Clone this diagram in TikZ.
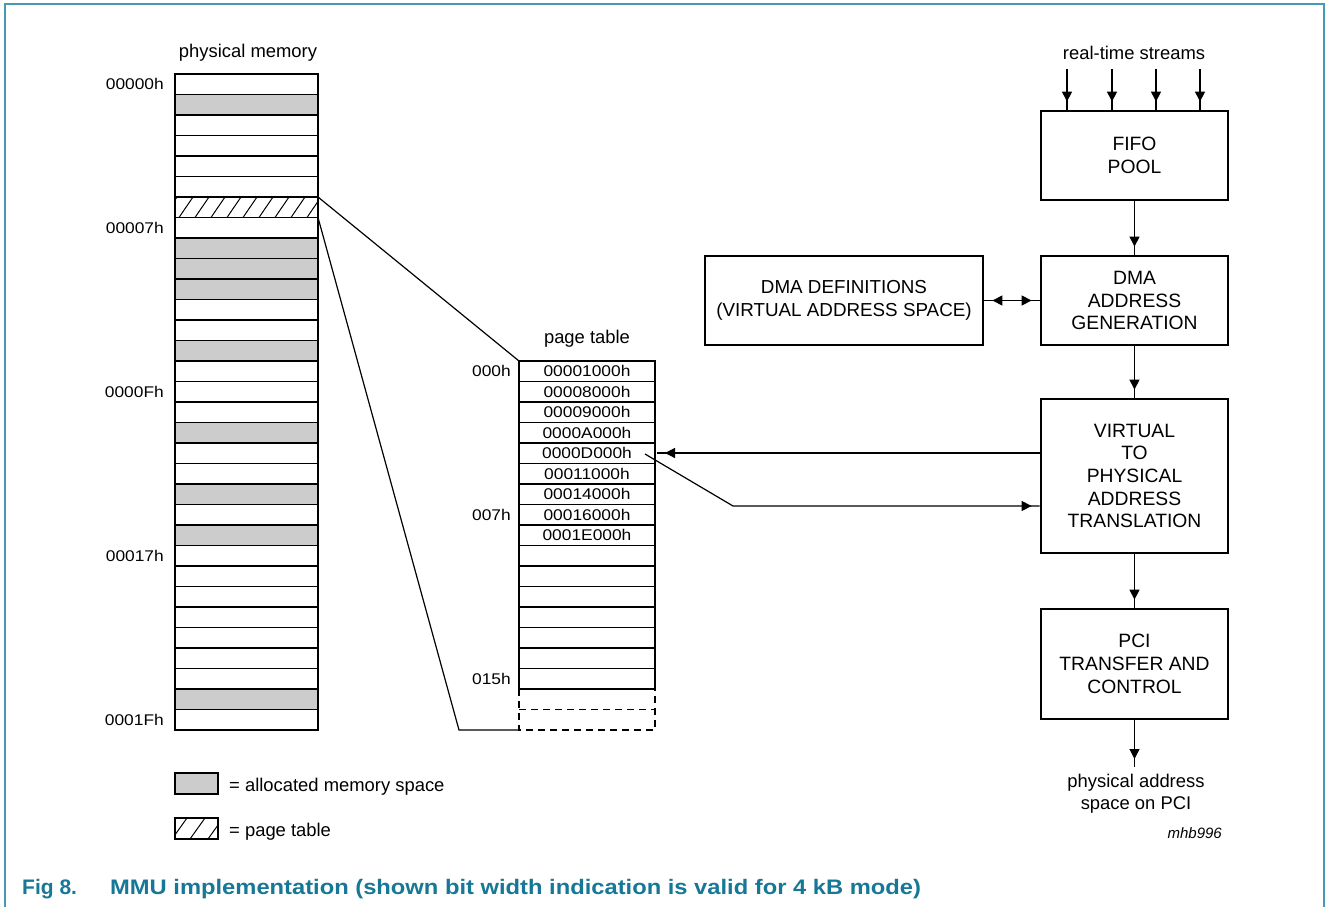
\documentclass[tikz,border=0pt]{standalone}
\usepackage{fontspec}
\setmainfont{Liberation Sans}
\newfontfamily\widefont[FakeStretch=1.12]{Liberation Sans}
\newfontfamily\capfont[FakeStretch=1.13]{Liberation Sans}
\usetikzlibrary{arrows.meta,decorations.markings}
\definecolor{capteal}{RGB}{22,120,150}
\definecolor{frameteal}{RGB}{70,155,180}
\definecolor{memgray}{RGB}{204,204,204}
\begin{document}
\begin{tikzpicture}[x=1pt,y=-1pt,
  txt/.style={font=\fontsize{18.4}{22}\selectfont, inner sep=0pt},
  hex/.style={font={\widefont\fontsize{15.5}{18}\selectfont}, inner sep=0pt},
  blk/.style={draw, line width=2.8pt, minimum width=187pt, align=center,
              font=\fontsize{19.3}{22.7}\selectfont, inner sep=0pt},
  gridline/.style={line width=1.7pt},
  ptline/.style={line width=1.4pt},
  conn/.style={line width=1.2pt},
  tipped/.style={postaction={decorate}, decoration={markings,
      mark=at position -8pt with {\arrow{Triangle[length=10pt,width=10pt]}}}},
  biarrow/.style={postaction={decorate}, decoration={markings,
      mark=at position 8pt with {\arrowreversed{Triangle[length=10pt,width=10pt]}},
      mark=at position -8pt with {\arrow{Triangle[length=10pt,width=10pt]}}}}
]
\useasboundingbox (0,0) rectangle (1328,907);
\fill[white] (0,0) rectangle (1328,907);

% frame
\draw[frameteal, line width=1.6pt] (5,907) -- (5,4) -- (1324,4) -- (1324,907);

% ---------- physical memory ----------
\node[txt, anchor=base] (pmtitle) at (248,58) {physical memory};
\foreach \r in {1,8,9,10,13,17,20,22,30} {
  \pgfmathsetmacro\ya{74+20.5*\r}
  \pgfmathsetmacro\yb{74+20.5*(\r+1)}
  \fill[memgray] (175,\ya) rectangle (318,\yb);
}
\begin{scope}
  \clip (175,197) rectangle (318,217.5);
  \foreach \k in {0,...,10} {
    \draw[line width=1pt] ({163+16*\k},217.5) -- ({177+16*\k},197);
  }
\end{scope}
\draw[gridline] (175,74) rectangle (318,730);
\foreach \r in {1,...,31} {
  \pgfmathsetmacro\ya{74+20.5*\r}
  \draw[gridline] (175,\ya) -- (318,\ya);
}
\foreach \r/\t/\nm in {0/00000h/ma,7/00007h/mb,15/0000Fh/mc,23/00017h/md,31/0001Fh/me} {
  \pgfmathsetmacro\yc{74+20.5*(\r+0.5)}
  \node[hex, anchor=east] (\nm) at (164,\yc) {\t};
}

% ---------- page table ----------
\node[txt, anchor=base] (pttitle) at (587,343) {page table};
\draw[ptline] (519,689) -- (519,361) -- (655,361) -- (655,689);
\foreach \r in {1,...,16} {
  \pgfmathsetmacro\ya{361+20.5*\r}
  \draw[ptline] (519,\ya) -- (655,\ya);
}
\draw[ptline, dash pattern=on 7pt off 5pt] (519,689) -- (519,730) -- (655,730) -- (655,689);
\draw[ptline, dash pattern=on 7pt off 5pt] (519,709.5) -- (655,709.5);
\foreach \r/\t in {0/00001000h,1/00008000h,2/00009000h,3/0000A000h,4/0000D000h,
                   5/00011000h,6/00014000h,7/00016000h,8/0001E000h} {
  \pgfmathsetmacro\yc{361+20.5*(\r+0.5)}
  \node[hex] (pe\r) at (587,\yc) {\t};
}
\foreach \r/\t/\nm in {0/000h/pa,7/007h/pb,15/015h/pc} {
  \pgfmathsetmacro\yc{361+20.5*(\r+0.5)}
  \node[hex, anchor=east] (\nm) at (511,\yc) {\t};
}

% connectors memory -> page table
\coordinate (hatchA) at (318,197);
\coordinate (hatchB) at (318,217.5);
\coordinate (ptA) at (519,361);
\coordinate (ptB) at (519,730);
\coordinate (bendB) at (459,730);
\draw[conn] (hatchA) -- (ptA);
\draw[conn] (hatchB) -- (bendB) -- (ptB);

% ---------- legend ----------
\fill[memgray] (175,773) rectangle (218,794);
\draw[line width=1.2pt] (175,773) rectangle (218,794);
\node[txt, anchor=base west] (leg1) at (229,791.5) {= allocated memory space};
\begin{scope}
  \clip (175,818) rectangle (218,839);
  \foreach \k in {0,...,3} {
    \draw[line width=1pt] ({172+18*\k},839) -- ({187+18*\k},818);
  }
\end{scope}
\draw[line width=1.2pt] (175,818) rectangle (218,839);
\node[txt, anchor=base west] (leg2) at (229,836) {= page table};

% ---------- blocks ----------
\node[txt, anchor=base] (rts) at (1134,59.5) {real-time streams};
\node[blk, minimum height=89pt] (fifo) at (1134.5,155.5) {FIFO\\POOL};
\node[blk, minimum height=89pt] (dmagen) at (1134.5,300.5) {DMA\\ADDRESS\\GENERATION};
\node[blk, minimum height=154pt] (v2p) at (1134.5,476) {VIRTUAL\\TO\\PHYSICAL\\ADDRESS\\TRANSLATION};
\node[blk, minimum height=110pt] (pci) at (1134.5,664) {PCI\\TRANSFER AND\\CONTROL};
\node[blk, minimum width=278pt, minimum height=89pt, font=\fontsize{18.8}{22.7}\selectfont] (dmadef) at (844,300.5) {DMA DEFINITIONS\\(VIRTUAL ADDRESS SPACE)};

\foreach \x/\n in {1067/1,1112/2,1156/3,1200/4} {
  \coordinate (rt\n) at (\x,69);
  \draw[conn, tipped] (rt\n) -- (rt\n |- fifo.north);
}
\draw[conn, tipped] (fifo.south) -- (dmagen.north);
\draw[conn, tipped] (dmagen.south) -- (v2p.north);
\draw[conn, tipped] (v2p.south) -- (pci.north);
\coordinate (pciout) at (1134.5,767);
\draw[conn, tipped] (pci.south) -- (pciout);
\draw[conn, biarrow] (dmadef.east) -- (dmagen.west);

\coordinate (ptin) at (657,453);
\draw[conn, tipped] (v2p.west |- ptin) -- (ptin);
\coordinate (dstart) at (645,454);
\coordinate (dbend) at (733,506);
\draw[conn, tipped] (dstart) -- (dbend) -- (dbend -| v2p.west);

\node[txt, anchor=base] (outtxt) at (1136,787) {physical address};
\node[txt, anchor=base] (outtxt2) at (1136,809) {space on PCI};
\node[font=\itshape\fontsize{15}{18}\selectfont, inner sep=0pt, anchor=base east] (code) at (1222,838) {mhb996};

% ---------- caption ----------
\node[font=\bfseries\fontsize{21}{24}\selectfont, text=capteal, inner sep=0pt, anchor=base west] (figno) at (22,894) {Fig 8.};
\node[font={\capfont\bfseries\fontsize{21}{24}\selectfont}, text=capteal, inner sep=0pt, anchor=base west] (caption) at (110,894) {MMU implementation (shown bit width indication is valid for 4 kB mode)};
\end{tikzpicture}
\end{document}
